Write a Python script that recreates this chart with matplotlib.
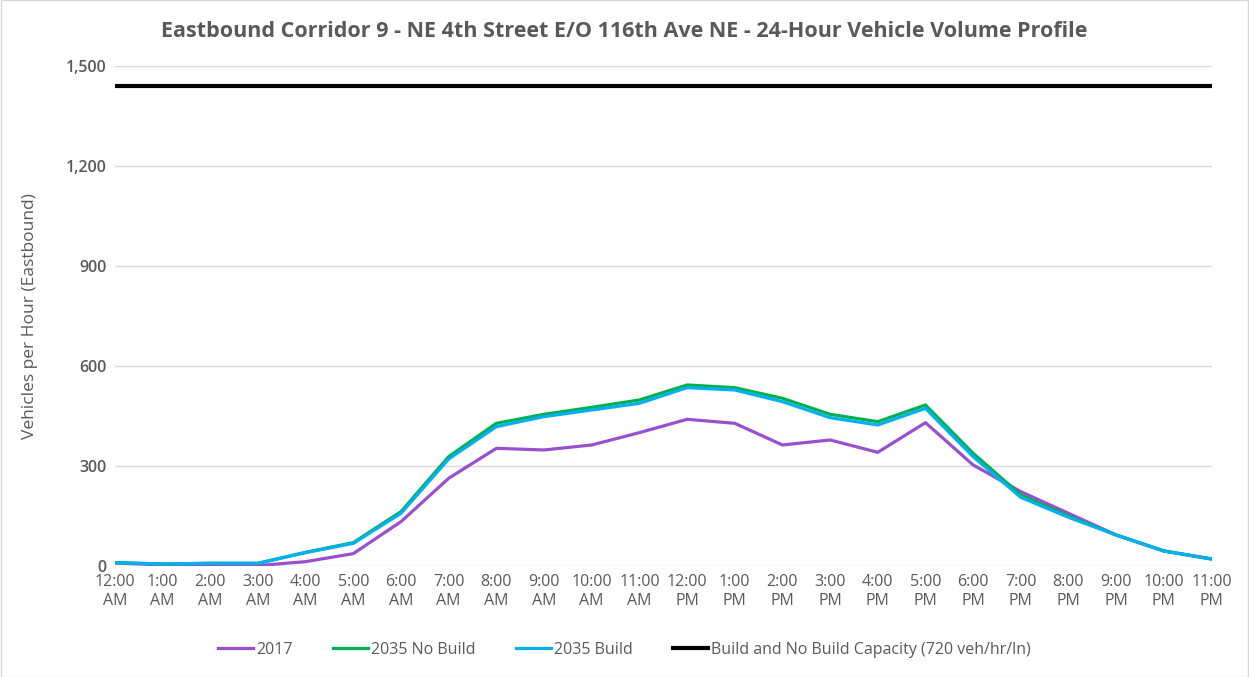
import matplotlib
matplotlib.use("Agg")
import matplotlib.pyplot as plt
from matplotlib.ticker import FuncFormatter

hours = ["12:00\nAM", "1:00\nAM", "2:00\nAM", "3:00\nAM", "4:00\nAM", "5:00\nAM",
         "6:00\nAM", "7:00\nAM", "8:00\nAM", "9:00\nAM", "10:00\nAM", "11:00\nAM",
         "12:00\nPM", "1:00\nPM", "2:00\nPM", "3:00\nPM", "4:00\nPM", "5:00\nPM",
         "6:00\nPM", "7:00\nPM", "8:00\nPM", "9:00\nPM", "10:00\nPM", "11:00\nPM"]

v2017 = [9, 3, 1, 1, 13, 37, 133, 263, 353, 348, 363, 400, 440, 428, 363, 378,
         341, 430, 303, 223, 158, 93, 45, 21]
v2035_nobuild = [10, 6, 8, 8, 41, 70, 163, 328, 428, 455, 476, 498, 543, 535, 503,
                 455, 433, 483, 338, 213, 150, 93, 45, 21]
v2035_build = [10, 6, 8, 8, 40, 68, 158, 321, 418, 448, 468, 488, 535, 528, 493,
               445, 423, 473, 328, 206, 146, 93, 45, 21]
capacity = [1440] * 24

yticks = [0, 300, 600, 900, 1200, 1500]

gray = "#595959"
plt.rcParams['font.family'] = ['Open Sans', 'DejaVu Sans']

fig = plt.figure(figsize=(12.49, 6.77), dpi=100)
ax = fig.add_axes([0.092, 0.164, 0.878, 0.7385])

x = list(range(len(hours)))
ax.plot(x, v2017, color="#9950d0", lw=2.3, label="2017", zorder=3)
ax.plot(x, v2035_nobuild, color="#00b050", lw=2.3, label="2035 No Build", zorder=4)
ax.plot(x, v2035_build, color="#00b0f0", lw=2.3, label="2035 Build", zorder=5)
ax.plot(x, capacity, color="black", lw=3, label="Build and No Build Capacity (720 veh/hr/ln)", zorder=6)

ax.set_xlim(0, 23)
ax.set_ylim(0, 1500)
ax.set_yticks(yticks)
ax.yaxis.set_major_formatter(FuncFormatter(lambda v, p: f"{int(v):,}"))
ax.set_xticks(x)
ax.set_xticklabels(hours)
ax.tick_params(axis='both', length=0, colors=gray, labelsize=11.5)
ax.tick_params(axis='x', pad=6)
ax.tick_params(axis='y', pad=6)
for lbl in ax.get_yticklabels():
    lbl.set_fontweight('semibold')
ax.grid(axis='y', color="#d9d9d9", lw=1)
ax.set_axisbelow(True)
for s in ax.spines.values():
    s.set_visible(False)

ax.set_ylabel("Vehicles per Hour (Eastbound)", color=gray, fontsize=12.5, labelpad=20)
fig.text(0.5, 0.953, "Eastbound Corridor 9 - NE 4th Street E/O 116th Ave NE - 24-Hour Vehicle Volume Profile",
         ha='center', va='center', color=gray, fontsize=15.5, fontweight='bold')

fig.legend(loc='center', bbox_to_anchor=(0.5, 0.04), ncol=4, frameon=False,
           fontsize=11.5, labelcolor=gray, handlelength=2.2, handletextpad=0.2,
           columnspacing=2.5)

fig.patches.append(matplotlib.patches.Rectangle((0.0005, 0.0005), 0.999, 0.999, transform=fig.transFigure,
                                                fill=False, edgecolor="#d9d9d9", lw=1))

fig.savefig("out.png", dpi=100)
